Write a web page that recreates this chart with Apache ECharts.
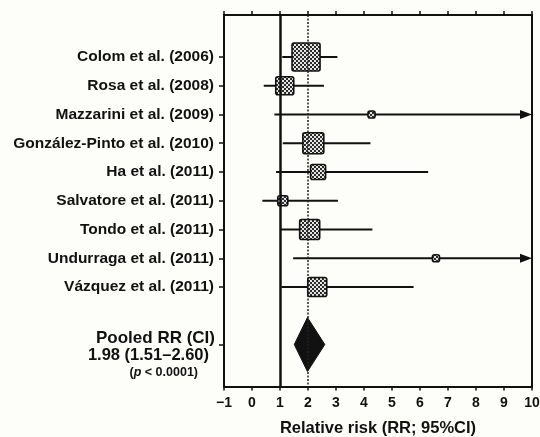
<!DOCTYPE html>
<html>
<head>
<meta charset="utf-8">
<script src="https://cdn.jsdelivr.net/npm/echarts@6/dist/echarts.min.js"></script>
<style>
  html, body { margin: 0; padding: 0; background: #fdfdf9; }
  #chart { width: 540px; height: 437px; }
</style>
</head>
<body>
<div id="chart"></div>
<script>
// 研究名称与效应量 (RR 及 95% CI)
const studies = [
  'Colom et al. (2006)',
  'Rosa et al. (2008)',
  'Mazzarini et al. (2009)',
  'González-Pinto et al. (2010)',
  'Ha et al. (2011)',
  'Salvatore et al. (2011)',
  'Tondo et al. (2011)',
  'Undurraga et al. (2011)',
  'Vázquez et al. (2011)'
];
const rr = [1.93, 1.17, 4.27, 2.19, 2.36, 1.10, 2.06, 6.57, 2.33];
const ciLow = [1.08, 0.42, 0.80, 1.10, 0.86, 0.37, 1.01, 1.47, 1.05];
const ciHigh = [3.05, 2.57, 14.0, 4.23, 6.29, 3.07, 4.30, 12.0, 5.77];
// 相对权重 (方块面积)
const weights = [25, 10.3, 1.6, 14, 7.2, 3.2, 12.8, 1.6, 11.5];

const pooledRR = 1.98;
const pooledLow = 1.51;
const pooledHigh = 2.60;
const pooledP = '< 0.0001';

const xTicks = [-1, 0, 1, 2, 3, 4, 5, 6, 7, 8, 9, 10];

const xMin = -1, xMax = 10;
const yMin = -0.46, yMax = 12.46;
const pooledPos = studies.length + 2;
const rowPos = studies.map((s, i) => i + 1).concat([pooledPos]);
const FONT = 'Liberation Sans';

// 方块的网点填充
function makePattern() {
  const c = document.createElement('canvas');
  c.width = 4; c.height = 4;
  const ctx = c.getContext('2d');
  ctx.fillStyle = '#e6e6e6';
  ctx.fillRect(0, 0, 4, 4);
  ctx.fillStyle = '#2a2a2a';
  ctx.fillRect(0, 0, 2, 2);
  ctx.fillRect(2, 2, 2, 2);
  return c;
}
const pattern = { image: makePattern(), repeat: 'repeat' };

const studyData = studies.map((s, i) => [rr[i], ciLow[i], ciHigh[i], weights[i], i + 1]);

function renderStudy(params, api) {
  const y = api.value(4);
  const c = api.coord([api.value(0), y]);
  const lo = api.coord([Math.max(api.value(1), xMin), y]);
  const hiVal = api.value(2);
  const arrow = hiVal > xMax;
  const hi = api.coord([Math.min(hiVal, xMax), y]);
  const side = 5.6 * Math.sqrt(api.value(3));
  const children = [];
  children.push({
    type: 'line',
    shape: { x1: lo[0], y1: c[1], x2: arrow ? hi[0] - 9 : hi[0], y2: c[1] },
    style: { stroke: '#111', lineWidth: 2 }
  });
  if (arrow) {
    children.push({
      type: 'polygon',
      shape: { points: [[hi[0], c[1]], [hi[0] - 12, c[1] - 4.5], [hi[0] - 12, c[1] + 4.5]] },
      style: { fill: '#111' }
    });
  }
  children.push({
    type: 'rect',
    shape: { x: c[0] - side / 2, y: c[1] - side / 2, width: side, height: side, r: 2 },
    style: { fill: pattern, stroke: '#111', lineWidth: 1.6 }
  });
  return { type: 'group', children: children };
}

function renderPooled(params, api) {
  const y = api.value(3);
  const l = api.coord([api.value(1), y]);
  const m = api.coord([api.value(0), y]);
  const r = api.coord([api.value(2), y]);
  const axisX = api.coord([xMin, y])[0];
  const h = 27;
  const txt = (text, dx, dy, size, rich) => ({
    type: 'text',
    x: axisX - dx, y: m[1] + dy,
    style: {
      text: text, align: 'right', verticalAlign: 'middle',
      fontFamily: FONT, fontWeight: 'bold', fontSize: size, fill: '#111', rich: rich
    }
  });
  return {
    type: 'group',
    children: [
      {
        type: 'polygon',
        shape: { points: [[l[0], l[1]], [m[0], m[1] - h], [r[0], r[1]], [m[0], m[1] + h]] },
        style: { fill: '#111', stroke: '#111', lineWidth: 1 }
      },
      txt('Pooled RR (CI)', 9, -6, 17),
      txt(pooledRR.toFixed(2) + ' (' + pooledLow.toFixed(2) + '\u2013' + pooledHigh.toFixed(2) + ')', 15, 11, 16.5),
      txt('({i|p} ' + pooledP + ')', 26, 28, 12.5, {
        i: { fontFamily: FONT, fontWeight: 'bold', fontStyle: 'italic', fontSize: 12.5, fill: '#111' }
      })
    ]
  };
}

const chart = echarts.init(document.getElementById('chart'));
chart.setOption({
  backgroundColor: '#fdfdf9',
  animation: false,
  grid: { left: 224, right: 8, top: 15, bottom: 50.5, outerBoundsMode: 'none', containLabel: false },
  xAxis: [
    {
      type: 'value', min: xMin, max: xMax, interval: 1, position: 'bottom',
      name: 'Relative risk (RR; 95%CI)', nameLocation: 'middle', nameGap: 33,
      nameTextStyle: { fontFamily: FONT, fontWeight: 'bold', fontSize: 16.5, color: '#111' },
      axisLine: { onZero: false, lineStyle: { color: '#111', width: 2 } },
      axisTick: { length: 4, lineStyle: { color: '#111', width: 1.5 } },
      axisLabel: {
        margin: 10, fontFamily: FONT, fontWeight: 'bold', fontSize: 14, color: '#111',
        customValues: xTicks,
        formatter: v => (v < 0 ? '\u2212' + Math.abs(v) : String(v))
      },
      splitLine: { show: false }
    },
    {
      type: 'value', min: xMin, max: xMax, interval: 1, position: 'top',
      axisLine: { onZero: false, lineStyle: { color: '#111', width: 2 } },
      axisTick: { length: 4, lineStyle: { color: '#111', width: 1.5 } },
      axisLabel: { show: false },
      splitLine: { show: false }
    }
  ],
  yAxis: [
    {
      type: 'value', inverse: true, min: yMin, max: yMax, position: 'left',
      axisLine: { onZero: false, lineStyle: { color: '#111', width: 2 } },
      axisTick: { length: 5, customValues: rowPos, lineStyle: { color: '#111', width: 1.5 } },
      axisLabel: {
        margin: 10, fontFamily: FONT, fontWeight: 'bold', fontSize: 15.5, color: '#111',
        customValues: rowPos,
        formatter: v => studies[Math.round(v) - 1] || ''
      },
      splitLine: { show: false }
    },
    {
      type: 'value', inverse: true, min: yMin, max: yMax, position: 'right',
      axisLine: { show: true, onZero: false, lineStyle: { color: '#111', width: 2 } },
      axisTick: { show: false }, axisLabel: { show: false }, splitLine: { show: false }
    }
  ],
  series: [
    {
      type: 'line', data: [],
      markLine: {
        silent: true, symbol: 'none', label: { show: false },
        data: [
          { xAxis: 1, lineStyle: { color: '#111', width: 2.5, type: 'solid' } },
          { xAxis: 2, lineStyle: { color: '#222', width: 1.5, type: [2, 1.5] } }
        ]
      }
    },
    {
      type: 'custom', renderItem: renderStudy, data: studyData,
      encode: { x: [0, 1, 2], y: 4 }, z: 3
    },
    {
      type: 'custom', renderItem: renderPooled, clip: false,
      data: [[pooledRR, pooledLow, pooledHigh, pooledPos]],
      encode: { x: [0, 1, 2], y: 3 }, z: 3
    }
  ]
});
</script>
</body>
</html>
